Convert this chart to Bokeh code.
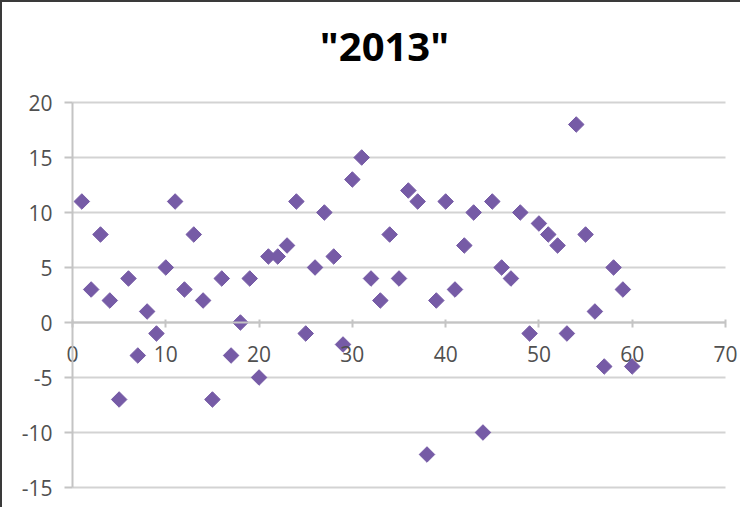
import math
from bokeh.plotting import figure
from bokeh.models import FixedTicker, Range1d, Label
from bokeh.embed import file_html
from bokeh.resources import INLINE

# ---- data ----
x_vals = list(range(1, 61))
y_vals = [11, 3, 8, 2, -7, 4, -3, 1, -1, 5,
          11, 3, 8, 2, -7, 4, -3, 0, 4, -5,
          6, 6, 7, 11, -1, 5, 10, 6, -2, 13,
          15, 4, 2, 8, 4, 12, 11, -12, 2, 11,
          3, 7, 10, -10, 11, 5, 4, 10, -1, 9,
          8, 7, -1, 18, 8, 1, -4, 5, 3, -4]
x_ticks = [0, 10, 20, 30, 40, 50, 60, 70]
y_ticks = [-15, -10, -5, 0, 5, 10, 15, 20]
y_tick_labels = ["-15", "-10", "-5", "0", "5", "10", "15", "20"]
title_text = '"2013"'

FONT = "Open Sans"
LABEL_COLOR = "#505050"
AXIS_COLOR = "#c4c4c4"
GRID_COLOR = "#d3d3d3"
MARKER_COLOR = "#765ba6"

W, H = 740, 507
# target pixel positions of the plotting area (axis extents)
PX_LEFT, PX_RIGHT, PX_TOP, PX_BOTTOM = 70, 723, 100, 485
X0, X1 = x_ticks[0], x_ticks[-1]
Y0, Y1 = y_ticks[0], y_ticks[-1]
sx = (PX_RIGHT - PX_LEFT) / (X1 - X0)
sy = (PX_BOTTOM - PX_TOP) / (Y1 - Y0)
x_range = Range1d(X0 - PX_LEFT / sx, X1 + (W - PX_RIGHT) / sx)
y_range = Range1d(Y0 - (H - PX_BOTTOM) / sy, Y1 + PX_TOP / sy)

p = figure(width=W, height=H, output_backend="svg", toolbar_location=None,
           x_range=x_range, y_range=y_range, title_location=None,
           min_border_left=0, min_border_right=0, min_border_top=0,
           min_border_bottom=0)

p.outline_line_color = None
p.background_fill_color = "white"
p.border_fill_color = "white"
p.styles = {"border-left": "2px solid #3a3a3a", "border-top": "2px solid #3a3a3a"}

# grid lines (only over the plotting area)
p.xgrid.grid_line_color = None
p.ygrid.grid_line_color = None
p.segment(x0=[X0] * len(y_ticks), x1=[X1] * len(y_ticks), y0=y_ticks, y1=y_ticks,
          line_color=GRID_COLOR, line_width=2)

# title
p.add_layout(Label(x=382, y=H - 43, x_units="screen", y_units="screen",
                   text=title_text, text_font=FONT, text_font_size="40px",
                   text_font_style="bold", text_color="black",
                   text_align="center", text_baseline="middle"))

# x axis crossing at y = 0
p.xaxis.fixed_location = 0
p.xaxis.bounds = (X0, X1)
p.xaxis.ticker = FixedTicker(ticks=x_ticks)
p.xaxis.axis_line_color = AXIS_COLOR
p.xaxis.axis_line_width = 2
p.xaxis.major_tick_line_color = AXIS_COLOR
p.xaxis.major_tick_line_width = 2
p.xaxis.major_tick_in = 3
p.xaxis.major_tick_out = 5
p.xaxis.minor_tick_line_color = None
p.xaxis.major_label_standoff = 18
p.xaxis.major_label_text_font = FONT
p.xaxis.major_label_text_font_size = "21px"
p.xaxis.major_label_text_color = LABEL_COLOR

# y axis at x = 0
p.yaxis.fixed_location = 0
p.yaxis.bounds = (Y0, Y1)
p.yaxis.ticker = FixedTicker(ticks=y_ticks)
p.yaxis.major_label_overrides = dict(zip(y_ticks, y_tick_labels))
p.yaxis.axis_line_color = AXIS_COLOR
p.yaxis.axis_line_width = 2
p.yaxis.major_tick_line_color = AXIS_COLOR
p.yaxis.major_tick_line_width = 2
p.yaxis.major_tick_in = 0
p.yaxis.major_tick_out = 8
p.yaxis.minor_tick_line_color = None
p.yaxis.major_label_standoff = 12
p.yaxis.major_label_text_font = FONT
p.yaxis.major_label_text_font_size = "21px"
p.yaxis.major_label_text_color = LABEL_COLOR

p.scatter(x_vals, y_vals, marker="square", size=11, angle=math.pi / 4,
          fill_color=MARKER_COLOR, line_color=MARKER_COLOR)

open("out.html", "w").write(file_html(p, INLINE))
